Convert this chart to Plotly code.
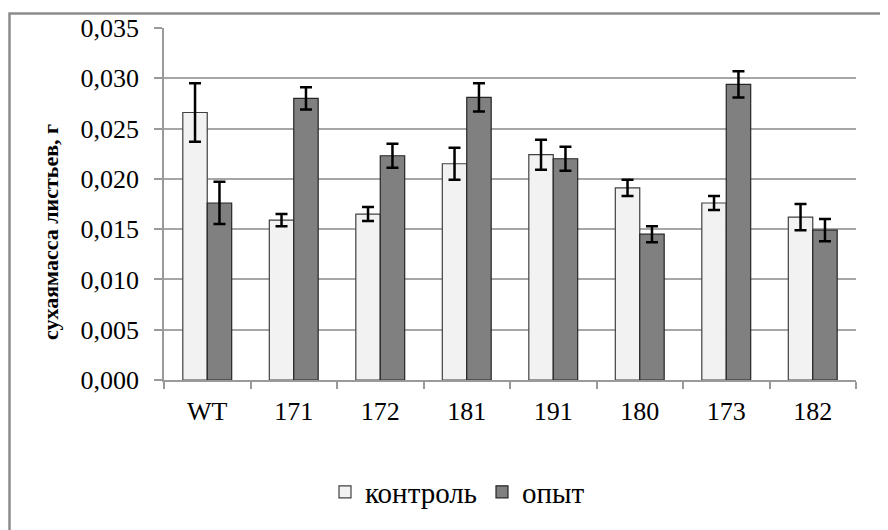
import plotly.graph_objects as go

categories = ["WT", "171", "172", "181", "191", "180", "173", "182"]
control = [0.0266, 0.0159, 0.0165, 0.0215, 0.0224, 0.0191, 0.0176, 0.0162]
control_err = [0.0029, 0.0006, 0.0007, 0.0016, 0.0015, 0.0008, 0.0007, 0.0013]
opyt = [0.0176, 0.0280, 0.0223, 0.0281, 0.0220, 0.0145, 0.0294, 0.0149]
opyt_err = [0.0021, 0.0011, 0.0012, 0.0014, 0.0012, 0.0008, 0.0013, 0.0011]
y_ticks = [0, 0.005, 0.010, 0.015, 0.020, 0.025, 0.030, 0.035]

FONT = "Liberation Serif, Times New Roman, DejaVu Serif, serif"

fig = go.Figure()
fig.add_trace(go.Bar(
    x=categories, y=control, name="контроль",
    marker=dict(color="#f2f2f2", line=dict(color="#404040", width=1.2)),
    error_y=dict(type="data", array=control_err, color="black", thickness=2.5, width=6),
))
fig.add_trace(go.Bar(
    x=categories, y=opyt, name="опыт",
    marker=dict(color="#808080", line=dict(color="#262626", width=1.2)),
    error_y=dict(type="data", array=opyt_err, color="black", thickness=2.5, width=6),
))

# page body has an 8px default margin: shift everything by it
OFF = 8
W, H = 888 - OFF, 530 - OFF
L, T = 164 - OFF, 28 - OFF
R = W - (856 - OFF)
B = H - (380 - OFF)
pw, ph = W - L - R, H - T - B

def px_x(p):
    return (p - OFF - L) / pw

def px_y(p):
    return (H - B - (p - OFF)) / ph

fig.update_layout(
    width=W, height=H,
    margin=dict(l=L, r=R, t=T, b=B, autoexpand=False),
    paper_bgcolor="white", plot_bgcolor="white",
    barmode="group", bargap=0.435, bargroupgap=0,
    separators=", ",
    font=dict(family=FONT, color="black", size=25),
    showlegend=True,
    legend=dict(orientation="h", x=px_x(482), y=px_y(492), xanchor="center", yanchor="middle",
                font=dict(family=FONT, size=29, color="black"),
                itemwidth=30, entrywidth=112, entrywidthmode="pixels",
                tracegroupgap=0, bgcolor="rgba(0,0,0,0)"),
    xaxis=dict(
        type="category", showgrid=False, showline=True, linecolor="#9a9a9a", linewidth=1.5,
        ticks="outside", tickson="boundaries", ticklen=7, tickcolor="#9a9a9a", tickwidth=1.5,
        tickfont=dict(family=FONT, size=26, color="black"), ticklabelstandoff=7,
    ),
    yaxis=dict(
        range=[0, 0.035], tickvals=y_ticks, tickformat=".3f",
        showgrid=True, gridcolor="#a6a6a6", gridwidth=1.5,
        showline=True, linecolor="#9a9a9a", linewidth=1.5,
        ticks="outside", ticklen=8, tickcolor="#9a9a9a", tickwidth=1.5,
        tickfont=dict(family=FONT, size=26, color="black"), zeroline=False,
        ticklabelstandoff=10,
    ),
    annotations=[dict(
        text="<b>сухаямасса листьев, г</b>", textangle=-90,
        xref="paper", yref="paper", x=px_x(50), y=px_y(232),
        xanchor="center", yanchor="middle", showarrow=False,
        font=dict(family=FONT, size=22, color="black"),
    )],
    shapes=[dict(
        type="rect", xref="paper", yref="paper",
        x0=px_x(9.5), y0=px_y(600), x1=px_x(950), y1=px_y(13.5),
        line=dict(color="#8c8c8c", width=2.5), fillcolor="rgba(0,0,0,0)", layer="below",
    )],
)

fig.write_html("out.html")
